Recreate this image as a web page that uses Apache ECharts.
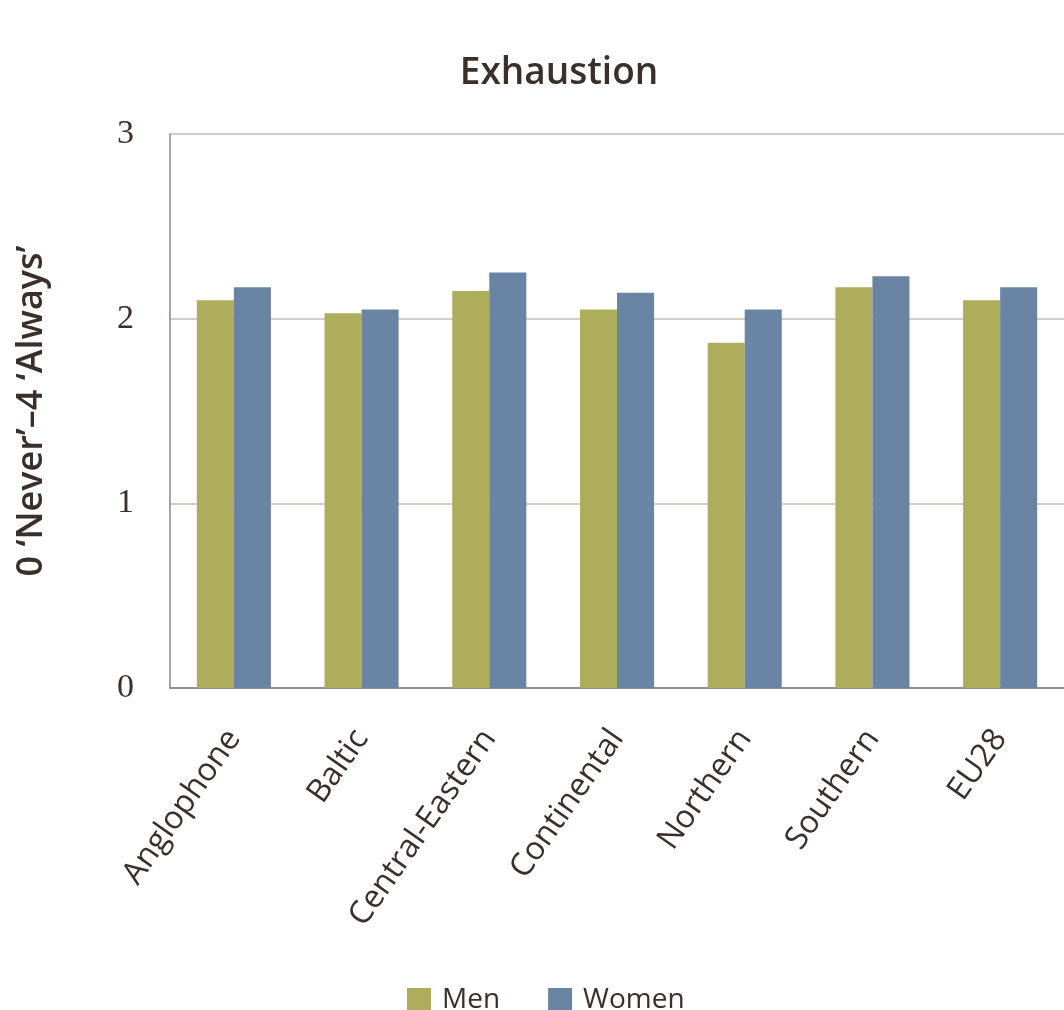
<!DOCTYPE html>
<html>
<head>
<meta charset="utf-8">
<script src="https://cdn.jsdelivr.net/npm/echarts@6/dist/echarts.min.js"></script>
<style>
html,body{margin:0;padding:0;background:#fff;}
#chart{width:1064px;height:1010px;}
</style>
</head>
<body>
<div id="chart"></div>
<script>
const categories = ['Anglophone', 'Baltic', 'Central-Eastern', 'Continental', 'Northern', 'Southern', 'EU28'];
const menValues = [2.10, 2.03, 2.15, 2.05, 1.87, 2.17, 2.10];
const womenValues = [2.17, 2.05, 2.25, 2.14, 2.05, 2.23, 2.17];
const yTicks = [0, 1, 2, 3];

const textColor = '#3b2f29';
const chart = echarts.init(document.getElementById('chart'));
chart.setOption({
  animation: false,
  backgroundColor: '#ffffff',
  title: {
    text: 'Exhaustion',
    left: 554,
    top: 50,
    textAlign: 'center',
    textStyle: { fontFamily: 'Open Sans', fontWeight: 600, fontSize: 37, color: textColor }
  },
  legend: {
    data: ['Men', 'Women'],
    left: 402,
    top: 981,
    itemWidth: 24,
    itemHeight: 24,
    itemGap: 48,
    icon: 'rect',
    textStyle: { fontFamily: 'Open Sans', fontSize: 28, color: textColor, padding: [0, 0, 0, 6] }
  },
  grid: { left: 170, right: -9, top: 134, bottom: 322, containLabel: false },
  xAxis: {
    type: 'category',
    data: categories,
    axisLine: { show: true, lineStyle: { color: '#7f7a78', width: 1.5 } },
    axisTick: { show: false },
    axisLabel: {
      rotate: 55,
      interval: 0,
      margin: 45,
      fontFamily: 'Open Sans',
      fontSize: 32,
      color: textColor
    }
  },
  yAxis: {
    type: 'value',
    min: yTicks[0],
    max: yTicks[yTicks.length - 1],
    interval: 1,
    name: "0 \u2018Never\u2019\u20134 \u2018Always\u2019",
    nameLocation: 'middle',
    nameRotate: 90,
    nameGap: 120,
    nameTextStyle: { fontFamily: 'Open Sans', fontWeight: 600, fontSize: 36, color: textColor },
    axisLine: { show: true, lineStyle: { color: '#8c8784', width: 1.5 } },
    axisTick: { show: false },
    splitLine: { show: true, lineStyle: { color: '#c6bdb6', width: 1.5 } },
    axisLabel: {
      margin: 36,
      fontFamily: 'Liberation Serif',
      fontSize: 34,
      color: textColor
    }
  },
  series: [
    {
      name: 'Men',
      type: 'bar',
      data: menValues,
      barGap: '0%',
      barCategoryGap: '42%',
      itemStyle: { color: '#aead5c' }
    },
    {
      name: 'Women',
      type: 'bar',
      data: womenValues,
      barGap: '0%',
      barCategoryGap: '42%',
      itemStyle: { color: '#6a84a4' }
    }
  ]
});
</script>
</body>
</html>
